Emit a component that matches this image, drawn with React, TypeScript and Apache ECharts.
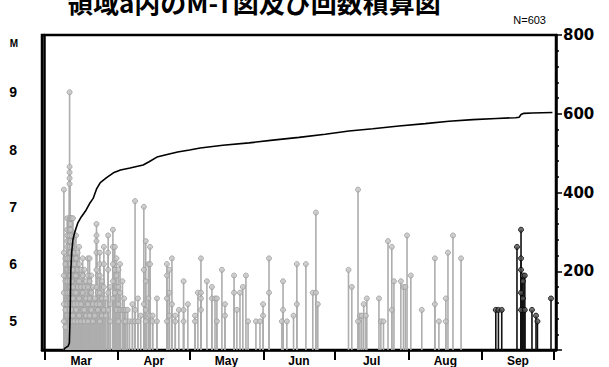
import React, { useEffect, useRef } from "react";
import * as echarts from "echarts";

// Days counted from 1 March (day 0); each entry: [day, magnitudes on that day]
const grayEvents: [number, number[]][] = [
  [8.2, [7.3, 6.2, 5.8, 5.5, 5.3, 5.0]],
  [8.8, [6.1, 6.0, 5.7, 5.2, 4.9]],
  [9.6, [6.8, 6.6, 6.5, 6.4, 6.3, 6.1, 5.9, 5.7, 5.5, 5.3, 5.1]],
  [10.6, [9.0, 7.7, 7.6, 7.5, 7.4, 6.8, 6.7, 6.6, 6.5, 6.4, 6.3, 6.2, 6.1, 6.0, 5.9, 5.8, 5.7, 5.6, 5.5, 5.4, 5.3, 5.2, 5.1, 5.0]],
  [11.0, [6.8, 6.7, 6.6, 6.4, 6.2, 6.0, 5.9, 5.8, 5.6, 5.4, 5.3, 5.1, 5.0]],
  [11.5, [6.8, 6.5, 6.3, 6.1, 5.9, 5.7, 5.5, 5.2, 5.0]],
  [12.0, [6.8, 6.4, 6.2, 5.9, 5.6, 5.4, 5.1]],
  [12.6, [6.5, 6.2, 6.0, 5.8, 5.5, 5.3, 5.0]],
  [13.3, [6.5, 6.1, 5.8, 5.5, 5.2]],
  [14.0, [6.2, 5.9, 5.6, 5.3, 5.0]],
  [14.6, [6.3, 6.0, 5.7, 5.4, 5.1]],
  [15.4, [5.9, 5.6, 5.3, 5.0]],
  [16.1, [6.1, 5.8, 5.5, 5.2]],
  [16.8, [5.9, 5.6, 5.2, 5.0]],
  [17.5, [5.7, 5.4, 5.1]],
  [18.3, [6.1, 5.8, 5.6, 5.3, 5.0]],
  [19.0, [6.1, 5.7, 5.4, 5.1]],
  [19.7, [5.8, 5.5, 5.2]],
  [20.4, [5.6, 5.3, 5.0]],
  [21.2, [5.4, 5.1]],
  [21.9, [6.7, 6.5, 6.4, 6.2, 5.9, 5.6, 5.3]],
  [22.5, [5.8, 5.5, 5.2]],
  [23.3, [6.2, 6.0, 5.8, 5.5, 5.3, 5.0]],
  [24.2, [5.7, 5.4, 5.1]],
  [25.0, [6.3, 6.0, 5.6, 5.2]],
  [25.8, [5.4, 5.1]],
  [26.8, [6.5, 6.2, 5.9, 5.5, 5.2]],
  [27.7, [5.6, 5.3, 5.0]],
  [28.8, [6.6, 6.3, 6.0, 5.7, 5.4]],
  [29.6, [6.3, 5.9, 5.5]],
  [30.3, [6.1, 5.8, 5.6, 5.2]],
  [31.1, [5.9, 5.6, 5.3, 5.0]],
  [31.8, [6.0, 5.5, 5.2]],
  [32.8, [5.7, 5.2]],
  [33.5, [5.4, 5.2, 5.0]],
  [34.2, [5.2, 5.0]],
  [35.0, [5.2]],
  [35.8, [5.0]],
  [37.0, [5.3, 5.0]],
  [38.1, [7.1, 5.2, 5.0]],
  [39.3, [5.4, 5.0]],
  [40.5, [5.1]],
  [41.8, [7.0, 5.9, 5.3]],
  [42.6, [6.4, 5.7, 5.2, 5.0]],
  [43.7, [6.0, 5.4]],
  [44.4, [6.3, 6.0, 5.1]],
  [45.5, [5.1, 5.0]],
  [47.3, [5.4, 5.0]],
  [51.5, [6.0, 5.8, 5.4, 5.0]],
  [52.5, [5.9, 5.5, 5.1]],
  [53.6, [6.1, 5.3]],
  [55.0, [5.1, 5.0]],
  [56.5, [5.2]],
  [58.5, [5.7, 5.2, 5.0]],
  [60.3, [5.3]],
  [63.3, [5.1, 5.0]],
  [64.5, [5.5]],
  [65.8, [6.1, 5.5, 5.4, 5.2]],
  [68.3, [5.7]],
  [70.4, [5.6, 5.4]],
  [71.7, [5.4]],
  [72.5, [5.4, 5.0]],
  [74.6, [5.9]],
  [75.9, [5.3, 5.1]],
  [79.7, [5.8, 5.5]],
  [80.9, [5.2]],
  [82.2, [5.5]],
  [83.4, [5.6]],
  [84.7, [5.8]],
  [85.6, [5.0]],
  [88.9, [5.0]],
  [90.6, [5.0]],
  [91.9, [5.3, 5.1]],
  [94.4, [6.1, 5.5]],
  [99.8, [5.0]],
  [100.3, [5.7, 5.2]],
  [101.9, [5.0]],
  [104.7, [5.1]],
  [106.1, [6.0, 5.3]],
  [109.9, [6.0]],
  [112.8, [5.5]],
  [114.1, [6.9, 5.5]],
  [114.9, [5.3]],
  [127.8, [5.9]],
  [129.2, [5.6]],
  [131.8, [7.3, 5.0]],
  [132.6, [5.1]],
  [133.4, [5.1]],
  [134.2, [5.3]],
  [135.1, [5.1]],
  [135.5, [5.4]],
  [140.6, [5.4]],
  [141.4, [5.0]],
  [142.5, [5.0]],
  [144.4, [6.4]],
  [146.0, [6.3, 5.2]],
  [146.9, [5.7]],
  [149.8, [5.7]],
  [150.9, [5.6]],
  [151.7, [5.6]],
  [152.4, [6.5]],
  [154.0, [5.8]],
  [158.6, [5.2]],
  [164.1, [6.1, 5.3]],
  [165.8, [5.0]],
  [168.7, [5.4, 5.0]],
  [169.6, [6.2]],
  [171.7, [6.5]],
  [175.1, [6.1]],
];

const blackEvents: [number, number[]][] = [
  [189.7, [5.2]],
  [190.8, [5.2]],
  [192.2, [5.2]],
  [198.6, [6.3]],
  [200.3, [6.6, 6.1, 5.9, 5.5, 5.2]],
  [201.1, [5.8, 5.7, 5.4]],
  [201.9, [5.8, 5.2]],
  [204.9, [5.2]],
  [206.6, [5.1]],
  [207.2, [5.0]],
  [212.9, [5.4]],
];

const cumDays = [8.2, 8.5, 10.0, 10.5, 10.7, 10.9, 11.1, 11.5, 12.0, 12.8, 14, 15.5, 17.5, 19, 20.5, 22, 23.5, 26, 29, 32, 36, 41.5, 44, 47.3, 52, 56, 61, 65.5, 75, 86, 96, 107, 118, 128, 138, 149, 160, 170, 180, 190, 198, 199.5, 200.3, 201.5, 205, 213.5];
const cumCounts = [0, 4, 10, 18, 60, 120, 200, 250, 280, 300, 322, 338, 355, 372, 385, 410, 425, 437, 450, 457, 462, 470, 478, 490, 497, 503, 508, 513, 520, 526, 533, 540, 548, 556, 562, 569, 575, 581, 585, 588, 590, 591, 598, 601, 602, 603];

const monthNames = ["Mar", "Apr", "May", "Jun", "Jul", "Aug", "Sep"];
const monthStarts = [0, 31, 61, 92, 122, 153, 184, 214];
const monthMids = [15.5, 46, 76.5, 107, 137.5, 168.5, 199];
const magLabels = [5, 6, 7, 8, 9];
const countLabels = [200, 400, 600, 800];

function flatten(ev: [number, number[]][]) {
  const out: number[][] = [];
  ev.forEach(([d, ms]) => ms.forEach((m) => out.push([d, m])));
  return out;
}

export default function App() {
  const ref = useRef<HTMLDivElement>(null);
  useEffect(() => {
    if (!ref.current) return;
    const chart = echarts.init(ref.current, null, { renderer: "svg" });
    const gray = flatten(grayEvents);
    const black = flatten(blackEvents);
    const stem = (color: string) => (params: any, api: any) => {
      const top = api.coord([api.value(0), api.value(1)]);
      const base = api.coord([api.value(0), 4.5]);
      return {
        type: "line",
        shape: { x1: top[0], y1: base[1], x2: top[0], y2: top[1] },
        style: { stroke: color, lineWidth: 1.6 },
      };
    };
    const font = "'Liberation Sans', Arial, sans-serif";
    const wide = "'DejaVu Sans', sans-serif";
    chart.setOption({
      animation: false,
      grid: { left: 42, right: 53, top: 35, bottom: 17, show: true, borderColor: "#000", borderWidth: 2.5, backgroundColor: "#fff" },
      xAxis: {
        type: "value",
        min: -1,
        max: 215,
        axisLine: { show: true, lineStyle: { color: "#000", width: 2.5 } },
        axisTick: { show: true, customValues: monthStarts, length: 10, lineStyle: { color: "#000", width: 2 } },
        axisLabel: {
          customValues: monthMids,
          formatter: (v: number) => {
            const i = monthMids.findIndex((m) => Math.abs(m - v) < 0.01);
            return i >= 0 ? monthNames[i] : "";
          },
          margin: 5,
          color: "#000",
          fontSize: 12,
          fontWeight: "bold",
          fontFamily: font,
        },
        splitLine: { show: false },
      },
      yAxis: [
        {
          type: "value",
          min: 4.5,
          max: 10,
          axisLine: { show: true, lineStyle: { color: "#000", width: 2.5 } },
          axisTick: { show: false },
          axisLabel: { customValues: magLabels, margin: 25, color: "#000", fontSize: 14, fontWeight: "bold", fontFamily: font },
          splitLine: { show: false },
        },
        {
          type: "value",
          min: 0,
          max: 800,
          interval: 200,
          position: "right",
          axisLine: { show: true, lineStyle: { color: "#000", width: 2.5 } },
          axisTick: { show: true, length: 6, lineStyle: { color: "#000", width: 1.5 } },
          minorTick: { show: true, splitNumber: 5, length: 3, lineStyle: { color: "#000", width: 1.5 } },
          axisLabel: { customValues: countLabels, margin: 7, color: "#000", fontSize: 15, fontWeight: "bold", fontFamily: wide },
          splitLine: { show: false },
          minorSplitLine: { show: false },
        },
      ],
      graphic: [
        {
          type: "text",
          x: 67,
          y: 1,
          style: { text: "領域a内のM-T図及び回数積算図", font: "bold 26px 'Noto Sans CJK JP'", fill: "#000", verticalAlign: "middle", align: "left" },
        },
        {
          type: "text",
          x: 546,
          y: 20,
          style: { text: "N=603", font: "11px 'Liberation Sans', Arial, sans-serif", fill: "#000", align: "right", verticalAlign: "middle" },
        },
        {
          type: "text",
          x: 14,
          y: 43,
          style: { text: "M", font: "bold 10px 'Liberation Sans', Arial, sans-serif", fill: "#000", align: "center", verticalAlign: "middle" },
        },
      ],
      series: [
        { type: "custom", xAxisIndex: 0, yAxisIndex: 0, data: gray, renderItem: stem("#adadad"), encode: { x: 0, y: 1 }, z: 2 },
        { type: "scatter", xAxisIndex: 0, yAxisIndex: 0, data: gray, symbol: "circle", symbolSize: 5, itemStyle: { color: "#c6c6c6", borderColor: "#9c9c9c", borderWidth: 1 }, z: 3 },
        { type: "custom", xAxisIndex: 0, yAxisIndex: 0, data: black, renderItem: stem("#111"), encode: { x: 0, y: 1 }, z: 2 },
        { type: "scatter", xAxisIndex: 0, yAxisIndex: 0, data: black, symbol: "circle", symbolSize: 5, itemStyle: { color: "#555", borderColor: "#000", borderWidth: 1 }, z: 3 },
        {
          type: "line",
          xAxisIndex: 0,
          yAxisIndex: 1,
          data: cumDays.map((d, i) => [d, cumCounts[i]]),
          symbol: "none",
          lineStyle: { color: "#000", width: 1.6 },
          z: 5,
        },
      ],
    });
    return () => chart.dispose();
  }, []);
  return <div ref={ref} style={{ position: "fixed", left: 0, top: 0, width: 609, height: 367, background: "#fff" }} />;
}
